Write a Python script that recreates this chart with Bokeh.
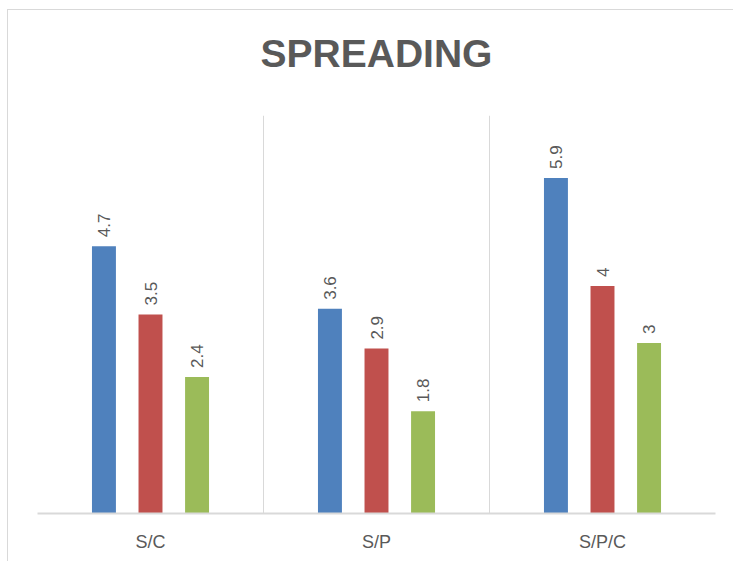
import math

from bokeh.embed import file_html
from bokeh.models import FixedTicker, Range1d, Title
from bokeh.plotting import figure
from bokeh.resources import INLINE
from bokeh.core.properties import value

# Spreading scores per group
categories = ["S/C", "S/P", "S/P/C"]
series_a = [4.7, 3.6, 5.9]
series_b = [3.5, 2.9, 4.0]
series_c = [2.4, 1.8, 3.0]

colors = ["#4F81BD", "#C0504D", "#9BBB59"]
text_color = "#595959"
grid_color = "#d9d9d9"
label_font = "Liberation Sans"
title_font = "Liberation Sans"

p = figure(
    width=726,
    height=552,
    x_range=Range1d(0, len(categories)),
    y_range=Range1d(0, 7),
    output_backend="svg",
    toolbar_location=None,
    min_border_left=29,
    min_border_right=19,
    min_border_top=105,
    min_border_bottom=49,
)
p.margin = (9, 0, 0, 7)
p.styles = {"border-top": "1px solid #d9d9d9", "border-left": "1px solid #d9d9d9"}
p.outline_line_color = None
p.background_fill_color = "white"
p.border_fill_color = "white"

# Spacer between the plot area and the heading, then the heading itself
p.add_layout(Title(text=" ", text_font_size="10px", standoff=18), "above")
p.add_layout(
    Title(
        text="SPREADING",
        align="center",
        text_font=title_font,
        text_font_size="39px",
        text_font_style="bold",
        text_color=text_color,
        standoff=20,
    ),
    "above",
)

# Bars: three series side by side inside each category slot
offsets = [-0.206, 0.0, 0.206]
bar_width = 0.106
for series, off, col in zip([series_a, series_b, series_c], offsets, colors):
    xs = [i + 0.5 + off for i in range(len(categories))]
    p.vbar(x=xs, top=series, width=bar_width, fill_color=col, line_color=None)
    p.text(
        x=xs,
        y=series,
        text=[f"{v:g}" for v in series],
        angle=math.pi / 2,
        text_align="left",
        text_baseline="middle",
        y_offset=-9,
        text_font=value(label_font),
        text_font_size="17px",
        text_color=text_color,
    )

# Axes and category separators
p.yaxis.visible = False
p.ygrid.grid_line_color = None
p.xgrid.ticker = FixedTicker(ticks=list(range(len(categories) + 1)))
p.xgrid.grid_line_color = grid_color
p.xgrid.grid_line_width = 1

p.xaxis.ticker = FixedTicker(ticks=[i + 0.5 for i in range(len(categories))])
p.xaxis.major_label_overrides = {i + 0.5: c for i, c in enumerate(categories)}
p.xaxis.major_tick_line_color = None
p.xaxis.minor_tick_line_color = None
p.xaxis.axis_line_color = grid_color
p.xaxis.axis_line_width = 2
p.xaxis.major_label_standoff = 12
p.xaxis.major_label_text_font = label_font
p.xaxis.major_label_text_font_size = "18px"
p.xaxis.major_label_text_color = text_color

open("out.html", "w").write(file_html(p, INLINE))
